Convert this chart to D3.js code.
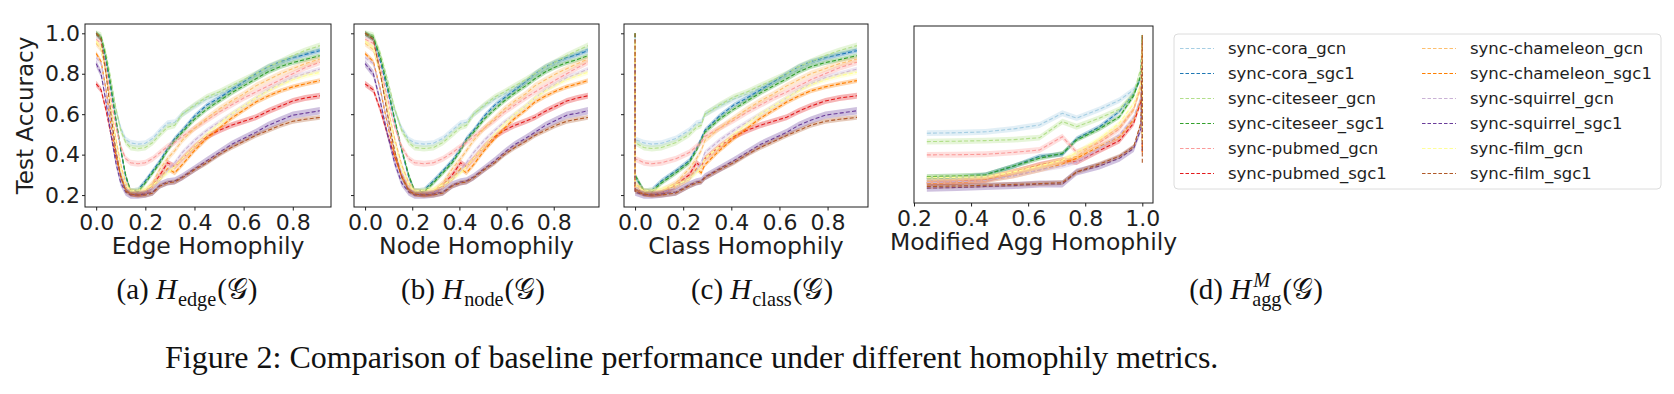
<!DOCTYPE html>
<html>
<head>
<meta charset="utf-8">
<script src="https://cdn.jsdelivr.net/npm/d3@7"></script>
<style>
body{margin:0;background:#fff}
svg{display:block}
</style>
</head>
<body>
<svg id="fig" width="1674" height="394"></svg>
<script>
// series names + colours (matplotlib "Paired")
const names = ['sync-cora_gcn','sync-cora_sgc1','sync-citeseer_gcn','sync-citeseer_sgc1','sync-pubmed_gcn','sync-pubmed_sgc1',
	'sync-chameleon_gcn','sync-chameleon_sgc1','sync-squirrel_gcn','sync-squirrel_sgc1','sync-film_gcn','sync-film_sgc1']
const cols = ['#a6cee3','#1f78b4','#b2df8a','#33a02c','#fb9a99','#e31a1c','#fdbf6f','#ff7f00','#cab2d6','#6a3d9a','#ffff99','#b15928']

// homophily of each generated graph under the three metrics
const edge_h  = [0.00,0.02,0.04,0.06,0.08,0.10,0.12,0.14,0.17,0.20,0.23,0.26,0.29,0.32,0.35,0.40,0.45,0.50,0.55,0.60,0.65,0.70,0.75,0.80,0.85,0.91]
const node_h  = [0.00,0.035,0.065,0.095,0.125,0.155,0.185,0.21,0.25,0.29,0.33,0.37,0.405,0.43,0.46,0.505,0.55,0.59,0.635,0.68,0.72,0.765,0.81,0.855,0.90,0.945]
const class_h = [0,0,0,0,0,0,0,0.037,0.07,0.11,0.17,0.225,0.255,0.275,0.29,0.35,0.41,0.465,0.52,0.575,0.63,0.68,0.73,0.79,0.85,0.922]

// test accuracy for those graphs
const acc_cora_gcn       = [0.99,0.98,0.88,0.75,0.62,0.53,0.475,0.458,0.452,0.456,0.48,0.52,0.555,0.56,0.60,0.64,0.675,0.70,0.73,0.76,0.79,0.82,0.85,0.875,0.90,0.922]
const acc_cora_sgc1      = [1.00,0.97,0.86,0.72,0.57,0.42,0.29,0.22,0.225,0.27,0.32,0.37,0.43,0.48,0.52,0.59,0.645,0.68,0.72,0.76,0.80,0.835,0.86,0.88,0.895,0.914]
const acc_citeseer_gcn   = [1.00,0.99,0.90,0.77,0.63,0.52,0.46,0.435,0.43,0.435,0.46,0.50,0.535,0.545,0.60,0.645,0.685,0.71,0.74,0.77,0.80,0.835,0.86,0.89,0.915,0.939]
const acc_citeseer_sgc1  = [1.00,0.98,0.88,0.74,0.58,0.43,0.30,0.22,0.215,0.26,0.31,0.36,0.42,0.47,0.51,0.575,0.625,0.665,0.705,0.74,0.775,0.81,0.835,0.855,0.87,0.889]
const acc_pubmed_gcn     = [0.97,0.95,0.83,0.68,0.54,0.44,0.38,0.36,0.355,0.36,0.38,0.41,0.44,0.46,0.49,0.53,0.57,0.61,0.645,0.68,0.71,0.74,0.77,0.80,0.83,0.857]
const acc_pubmed_sgc1    = [0.75,0.72,0.62,0.50,0.39,0.30,0.24,0.21,0.205,0.21,0.25,0.30,0.36,0.34,0.38,0.44,0.49,0.52,0.545,0.565,0.585,0.615,0.64,0.665,0.68,0.691]
const acc_chameleon_gcn  = [0.95,0.92,0.80,0.64,0.48,0.35,0.26,0.22,0.21,0.22,0.26,0.33,0.38,0.42,0.47,0.53,0.58,0.625,0.665,0.70,0.74,0.77,0.80,0.825,0.85,0.873]
const acc_chameleon_sgc1 = [0.90,0.86,0.72,0.55,0.40,0.29,0.23,0.205,0.20,0.21,0.24,0.28,0.33,0.31,0.35,0.42,0.48,0.53,0.58,0.62,0.66,0.69,0.715,0.735,0.75,0.766]
const acc_squirrel_gcn   = [0.88,0.85,0.72,0.56,0.42,0.31,0.24,0.21,0.205,0.21,0.24,0.28,0.32,0.36,0.41,0.47,0.52,0.56,0.60,0.64,0.68,0.72,0.75,0.78,0.80,0.823]
const acc_squirrel_sgc1  = [0.85,0.80,0.66,0.50,0.36,0.26,0.215,0.20,0.20,0.205,0.215,0.25,0.265,0.27,0.29,0.33,0.37,0.41,0.45,0.48,0.51,0.545,0.57,0.595,0.605,0.617]
const acc_film_gcn       = [0.96,0.93,0.80,0.63,0.46,0.33,0.25,0.22,0.225,0.23,0.25,0.28,0.31,0.34,0.38,0.44,0.50,0.55,0.60,0.64,0.68,0.715,0.745,0.77,0.79,0.807]
const acc_film_sgc1      = [1.00,0.97,0.80,0.60,0.42,0.29,0.22,0.205,0.20,0.20,0.21,0.245,0.26,0.265,0.285,0.325,0.36,0.40,0.435,0.465,0.495,0.52,0.545,0.565,0.575,0.584]

// modified agg homophily (last two points pile up at 1.0)
const agg_h = [0.245,0.35,0.45,0.55,0.64,0.72,0.77,0.85,0.92,0.97,0.995,1.0,1.0]
const agg_cora_gcn       = [0.498,0.50,0.505,0.52,0.54,0.60,0.575,0.62,0.667,0.72,0.78,0.99,0.60]
const agg_cora_sgc1      = [0.265,0.27,0.285,0.33,0.38,0.39,0.47,0.53,0.61,0.70,0.78,1.00,0.50]
const agg_citeseer_gcn   = [0.455,0.457,0.46,0.465,0.475,0.557,0.531,0.575,0.62,0.70,0.83,1.00,0.60]
const agg_citeseer_sgc1  = [0.276,0.28,0.285,0.33,0.37,0.395,0.463,0.52,0.582,0.69,0.795,1.00,0.50]
const agg_pubmed_gcn     = [0.387,0.388,0.39,0.40,0.412,0.48,0.40,0.45,0.52,0.62,0.75,0.97,0.50]
const agg_pubmed_sgc1    = [0.245,0.25,0.26,0.30,0.336,0.36,0.35,0.41,0.46,0.55,0.66,0.75,0.40]
const agg_chameleon_gcn  = [0.255,0.26,0.265,0.30,0.33,0.36,0.38,0.46,0.53,0.62,0.73,0.95,0.45]
const agg_chameleon_sgc1 = [0.24,0.245,0.255,0.28,0.31,0.34,0.37,0.43,0.48,0.57,0.67,0.90,0.40]
const agg_squirrel_gcn   = [0.245,0.25,0.255,0.28,0.31,0.33,0.35,0.42,0.49,0.58,0.68,0.88,0.45]
const agg_squirrel_sgc1  = [0.217,0.22,0.225,0.23,0.238,0.238,0.30,0.33,0.37,0.42,0.52,0.85,0.40]
const agg_film_gcn       = [0.27,0.272,0.275,0.30,0.33,0.36,0.40,0.47,0.55,0.65,0.75,1.00,0.45]
const agg_film_sgc1      = [0.225,0.228,0.232,0.236,0.24,0.245,0.30,0.34,0.38,0.43,0.55,1.00,0.34]

// half width of the shaded band per series
const spread = [0.015,0.012,0.015,0.012,0.015,0.015,0.015,0.012,0.012,0.018,0.012,0.012]

const x_ticks = [0.0,0.2,0.4,0.6,0.8]
const agg_ticks = [0.2,0.4,0.6,0.8,1.0]
const y_ticks = [0.2,0.4,0.6,0.8,1.0]

const acc = [acc_cora_gcn,acc_cora_sgc1,acc_citeseer_gcn,acc_citeseer_sgc1,acc_pubmed_gcn,acc_pubmed_sgc1,
	acc_chameleon_gcn,acc_chameleon_sgc1,acc_squirrel_gcn,acc_squirrel_sgc1,acc_film_gcn,acc_film_sgc1]
const agg = [agg_cora_gcn,agg_cora_sgc1,agg_citeseer_gcn,agg_citeseer_sgc1,agg_pubmed_gcn,agg_pubmed_sgc1,
	agg_chameleon_gcn,agg_chameleon_sgc1,agg_squirrel_gcn,agg_squirrel_sgc1,agg_film_gcn,agg_film_sgc1]

const sans = 'DejaVu Sans, sans-serif'
const serif = 'Liberation Serif, Times New Roman, serif'
const ink = '#1e1e1e'

const svg = d3.select('#fig')

const panels = [
	{x0:85, x1:331, y0:24, y1:207, xs:edge_h, ys:acc, dom:[-0.0455,0.9555], ticks:x_ticks, label:'Edge Homophily', yt:true, ylab:true},
	{x0:354, x1:599, y0:24, y1:207, xs:node_h, ys:acc, dom:[-0.047,0.992], ticks:x_ticks, label:'Node Homophily', yt:true},
	{x0:624, x1:868, y0:24, y1:207, xs:class_h, ys:acc, dom:[-0.046,0.968], ticks:x_ticks, label:'Class Homophily', yt:true},
	{x0:914, x1:1153, y0:26, y1:203, xs:agg_h, ys:agg, dom:[0.2,1.0375], ticks:agg_ticks, label:'Modified Agg Homophily', yt:false},
]

panels.forEach((p,pi)=>{
	const x = d3.scaleLinear().domain(p.dom).range([p.x0,p.x1])
	const y = d3.scaleLinear().domain([0.141,1.046]).range([p.y1,p.y0])

	const clipId = 'clip'+pi
	svg.append('clipPath').attr('id',clipId)
		.append('rect').attr('x',p.x0).attr('y',p.y0).attr('width',p.x1-p.x0).attr('height',p.y1-p.y0)

	const g = svg.append('g').attr('clip-path',`url(#${clipId})`)

	p.ys.forEach((vals,si)=>{
		const pts = vals.map((v,i)=>[p.xs[i],v])
		const band = d3.area()
			.x(d=>x(d[0]))
			.y0(d=>y(d[1]-spread[si]))
			.y1(d=>y(d[1]+spread[si]))
		g.append('path')
			.attr('d',band(pts))
			.attr('fill',cols[si])
			.attr('fill-opacity',0.32)
		const line = d3.line().x(d=>x(d[0])).y(d=>y(d[1]))
		g.append('path')
			.attr('d',line(pts))
			.attr('fill','none')
			.attr('stroke',cols[si])
			.attr('stroke-width',1.1)
			.attr('stroke-dasharray','4,2.2')
	})

	// frame
	svg.append('rect')
		.attr('x',p.x0).attr('y',p.y0)
		.attr('width',p.x1-p.x0).attr('height',p.y1-p.y0)
		.attr('fill','none').attr('stroke',ink).attr('stroke-width',1)

	const xa = svg.append('g')
		.attr('transform',`translate(0,${p.y1})`)
		.call(d3.axisBottom(x).tickValues(p.ticks).tickFormat(d3.format('.1f')).tickSize(3.5).tickPadding(4))
	xa.select('.domain').remove()
	xa.selectAll('text').attr('font-family',sans).attr('font-size',22).attr('fill',ink)
	xa.selectAll('line').attr('stroke',ink)

	if(p.yt){
		const ya = svg.append('g')
			.attr('transform',`translate(${p.x0},0)`)
			.call(d3.axisLeft(y).tickValues(y_ticks).tickFormat(pi==0 ? d3.format('.1f') : '').tickSize(3).tickPadding(2))
		ya.select('.domain').remove()
		ya.selectAll('text').attr('font-family',sans).attr('font-size',22).attr('fill',ink)
		ya.selectAll('line').attr('stroke',ink)
	}

	svg.append('text')
		.attr('x',(p.x0+p.x1)/2)
		.attr('y',p.y1+47)
		.attr('text-anchor','middle')
		.attr('font-family',sans).attr('font-size',23.5).attr('fill',ink)
		.text(p.label)

	if(p.ylab){
		svg.append('text')
			.attr('transform',`translate(33,${(p.y0+p.y1)/2}) rotate(-90)`)
			.attr('text-anchor','middle')
			.attr('font-family',sans).attr('font-size',23).attr('fill',ink)
			.text('Test Accuracy')
	}
})

/* legend */
const leg = svg.append('g')
leg.append('rect')
	.attr('x',1174).attr('y',34).attr('width',487).attr('height',155)
	.attr('rx',4)
	.attr('fill','#fff').attr('stroke','#dcdcdc').attr('stroke-width',1)

names.forEach((n,i)=>{
	const col = Math.floor(i/6)
	const row = i%6
	const lx = col==0 ? 1180 : 1422
	const ly = 48.5 + row*25
	leg.append('line')
		.attr('x1',lx).attr('x2',lx+34).attr('y1',ly).attr('y2',ly)
		.attr('stroke',cols[i]).attr('stroke-width',1.1).attr('stroke-dasharray','3.5,2')
	leg.append('text')
		.attr('x',lx+48).attr('y',ly).attr('dy','0.36em')
		.attr('font-family',sans).attr('font-size',16.5).attr('fill',ink)
		.text(n)
})

/* sub captions */
const capSize = 29
const caption = (cx,by,lab,sub,sup)=>{
	const g = svg.append('g')
	let cur = 0
	const put = (txt,size,dy,italic)=>{
		const t = g.append('text')
			.attr('x',cur).attr('y',by+dy)
			.attr('font-family',serif).attr('font-size',size).attr('fill','#111')
			.attr('font-style',italic ? 'italic' : 'normal')
			.text(txt)
		return t.node().getComputedTextLength()
	}
	cur += put(lab,capSize,0,false) + capSize*0.25
	cur += put('H',capSize,0,true) + 1
	const start = cur
	let w = put(sub,capSize*0.7,7,false)
	if(sup){
		cur = start + 1
		w = Math.max(w, put(sup,capSize*0.7,-12,true) + 1)
	}
	cur = start + w + 1
	cur += put('(𝒢)',capSize,0,false)
	g.attr('transform',`translate(${cx-cur/2},0)`)
}
caption(187,299,'(a)','edge')
caption(473,299,'(b)','node')
caption(762,299,'(c)','class')
caption(1256,299,'(d)','agg','M')

svg.append('text')
	.attr('x',165).attr('y',368)
	.attr('font-family',serif).attr('font-size',32).attr('fill','#111')
	.text('Figure 2: Comparison of baseline performance under different homophily metrics.')
</script>
</body>
</html>
